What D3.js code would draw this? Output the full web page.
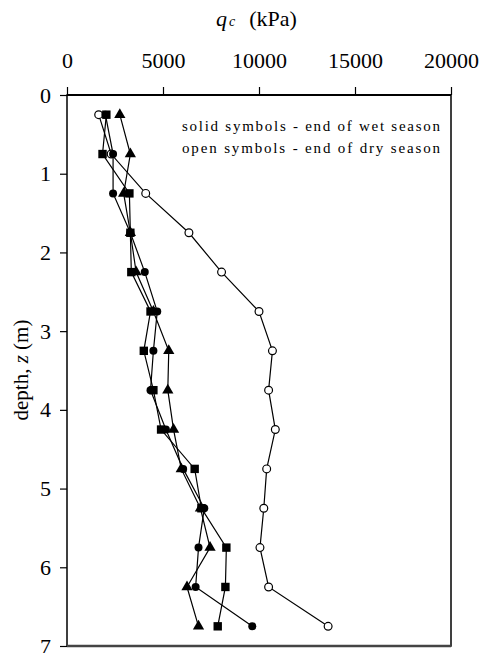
<!DOCTYPE html>
<html><head><meta charset="utf-8">
<script src="https://cdn.jsdelivr.net/npm/d3@7"></script>
<style>body{margin:0;background:#fff}svg{display:block}svg text{font-family:"Liberation Serif","DejaVu Serif",serif !important;fill:#000}</style>
</head><body><svg id="c" width="479" height="653"></svg>
<script>
const depths = [0.25,0.75,1.25,1.75,2.25,2.75,3.25,3.75,4.25,4.75,5.25,5.75,6.25,6.75];
const wetCircle   = [2000,2400,2400,3300,4050,4700,4500,4350,5150,6050,7150,6850,6700,9650];
const wetSquare   = [2050,1850,3250,3300,3350,4350,4000,4500,4900,6650,7000,8300,8250,7850];
const wetTriangle = [2750,3300,2950,3300,3600,4500,5300,5250,5550,5950,6950,7450,6250,6850];
const dryCircle   = [1650,2300,4100,6350,8050,10000,10700,10500,10850,10400,10250,10050,10500,13600];
const xTicks = [0,5000,10000,15000,20000];
const yTicks = [0,1,2,3,4,5,6,7];
const legendLines = ["solid symbols - end of wet season","open symbols - end of dry season"];

const svg = d3.select("#c");
const L=67,R=451,T=95,B=646;
const x = d3.scaleLinear().domain([0,20000]).range([L,R]);
const y = d3.scaleLinear().domain([0,7]).range([T,B]);

svg.append("rect").attr("x",L).attr("y",T).attr("width",R-L).attr("height",B-T)
  .attr("fill","none").attr("stroke","#000").attr("stroke-width",1.5);
svg.append("line").attr("x1",L).attr("x2",R).attr("y1",B).attr("y2",B).attr("stroke","#444").attr("stroke-width",2.5);
svg.append("line").attr("x1",L).attr("x2",R).attr("y1",T).attr("y2",T).attr("stroke","#000").attr("stroke-width",2);

const xa = svg.append("g").attr("transform",`translate(0,${T})`)
  .call(d3.axisTop(x).tickValues(xTicks).tickSize(8).tickSizeOuter(0).tickPadding(19).tickFormat(d3.format("d")));
xa.attr("font-family",null).attr("font-size",null);
xa.select(".domain").remove();
xa.selectAll("line").attr("stroke","#000").attr("stroke-width",1.2);
xa.selectAll("text").attr("font-size",22);

const ya = svg.append("g").attr("transform",`translate(${L},0)`)
  .call(d3.axisLeft(y).tickValues(yTicks).tickSize(7).tickSizeOuter(0).tickPadding(9).tickFormat(d3.format("d")));
ya.attr("font-family",null).attr("font-size",null);
ya.select(".domain").remove();
ya.selectAll("line").attr("stroke","#000").attr("stroke-width",1.2);
ya.selectAll("text").attr("font-size",22);

const xt = svg.append("text").attr("x",216).attr("y",26).attr("font-size",22);
xt.append("tspan").attr("font-style","italic").text("q");
xt.append("tspan").attr("font-style","italic").attr("font-size",14).attr("dx",2).text("c");
xt.append("tspan").attr("dx",14).text("(kPa)");

const yt = svg.append("text").attr("transform","translate(28,370) rotate(-90)").attr("text-anchor","middle").attr("font-size",21);
yt.append("tspan").text("depth, ");
yt.append("tspan").attr("font-style","italic").text("z");
yt.append("tspan").text(" (m)");

legendLines.forEach((t,i)=>{
  svg.append("text").attr("x",182).attr("y",131+i*21.5).attr("font-size",15)
    .attr("textLength",258).attr("lengthAdjust","spacing").text(t);
});

const line = d3.line().x(d=>x(d[0])).y(d=>y(d[1]));
function series(vals){ return vals.map((v,i)=>[v,depths[i]]); }
const plot = svg.append("g");
[wetTriangle,wetSquare,wetCircle,dryCircle].forEach(v=>{
  plot.append("path").attr("d",line(series(v))).attr("fill","none").attr("stroke","#000").attr("stroke-width",1.2);
});
plot.selectAll(".oc").data(series(dryCircle)).enter().append("circle")
  .attr("cx",d=>x(d[0])).attr("cy",d=>y(d[1])).attr("r",3.9).attr("fill","#fff").attr("stroke","#000").attr("stroke-width",1.2);
const tri = d3.symbol().type(d3.symbolTriangle).size(55);
plot.selectAll(".tr").data(series(wetTriangle)).enter().append("path")
  .attr("d",tri).attr("transform",d=>`translate(${x(d[0])},${y(d[1])})`).attr("fill","#000");
plot.selectAll(".sq").data(series(wetSquare)).enter().append("rect")
  .attr("x",d=>x(d[0])-4.2).attr("y",d=>y(d[1])-4.2).attr("width",8.4).attr("height",8.4).attr("fill","#000");
plot.selectAll(".sc").data(series(wetCircle)).enter().append("circle")
  .attr("cx",d=>x(d[0])).attr("cy",d=>y(d[1])).attr("r",4).attr("fill","#000");
</script></body></html>
